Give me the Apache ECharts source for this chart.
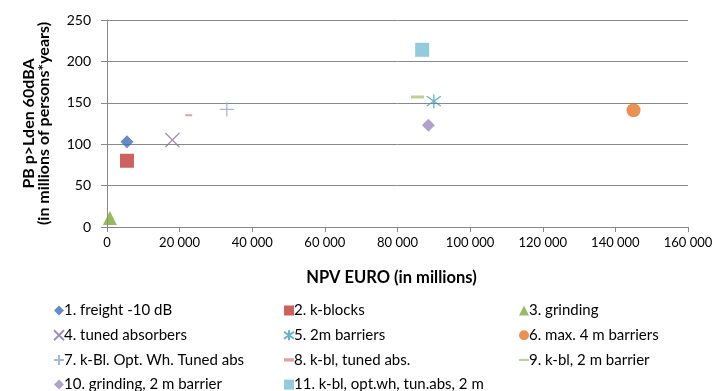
<!DOCTYPE html>
<html>
<head>
<meta charset="utf-8">
<script src="https://cdn.jsdelivr.net/npm/echarts@6/dist/echarts.min.js"></script>
<style>
html,body{margin:0;padding:0;background:#fff}
#main{width:717px;height:391px}
</style>
</head>
<body>
<div id="main"></div>
<script>
// 各方案的名称与数据
var names = ['1. freight -10 dB', '2. k-blocks', '3. grinding', '4. tuned absorbers', '5. 2m barriers',
  '6. max. 4 m barriers', '7. k-Bl. Opt. Wh. Tuned abs', '8. k-bl, tuned abs.', '9. k-bl, 2 m barrier',
  '10. grinding, 2 m barrier', '11. k-bl, opt.wh, tun.abs, 2 m'];
var npv = [5500, 5500, 800, 18000, 90000, 145000, 33000, 22500, 85500, 88500, 86800];
var pb = [103, 80, 11, 105, 152, 141, 142, 135, 157, 123, 214];
var colors = ['#3F6FB5', '#BE3B38', '#7EA83C', '#8B73A8', '#3E9DB8', '#E5772A', '#8EA6D6', '#D98B88', '#A8C77A', '#9F8BBE', '#79BDD5'];
var yTicks = [0, 50, 100, 150, 200, 250];
var xTicks = [0, 20000, 40000, 60000, 80000, 100000, 120000, 140000, 160000];

var font = 'Lato';
// 标记形状
var symbols = [
  {s: 'diamond', size: 13, line: false},
  {s: 'rect', size: 14, line: false},
  {s: 'triangle', size: 14, line: false},
  {s: 'path://M0,0L10,10M10,0L0,10', size: 14, line: true},
  {s: 'path://M5,0L5,10M0,1.5L10,8.5M10,1.5L0,8.5', size: 14, line: true},
  {s: 'circle', size: 14, line: false},
  {s: 'path://M5,0L5,10M0,5L10,5', size: 14, line: true},
  {s: 'rect', size: [7, 2], line: false, icon: 'path://M0,0h6v2h-6z'},
  {s: 'rect', size: [13, 3], line: false, icon: 'path://M0,0h10v2h-10z'},
  {s: 'diamond', size: 13, line: false},
  {s: 'rect', size: 14, line: false}
];

var series = names.map(function (n, i) {
  var sym = symbols[i];
  return {
    name: n,
    type: 'scatter',
    symbol: sym.s,
    symbolSize: sym.size,
    data: [[npv[i], pb[i]]],
    itemStyle: sym.line ? {color: colors[i], borderColor: colors[i], borderWidth: 1.3} : {color: colors[i]}
  };
});

function legendFor(idx, left) {
  return {
    orient: 'vertical',
    left: left,
    top: 303,
    height: 100,
    padding: 0,
    itemWidth: 10,
    itemHeight: 10,
    itemGap: 9.7,
    data: idx.map(function (i) {
      return symbols[i].icon ? {name: names[i], icon: symbols[i].icon} : names[i];
    }),
    textStyle: {fontFamily: font, fontSize: 15, color: '#000', padding: [0, 0, 0, -5], lineHeight: 15}
  };
}

var myChart = echarts.init(document.getElementById('main'));
var option = {
  animation: false,
  grid: {left: 107, right: 29, top: 20, bottom: 164},
  legend: [legendFor([0, 3, 6, 9], 53), legendFor([1, 4, 7, 10], 283), legendFor([2, 5, 8], 519)],
  xAxis: {
    type: 'value',
    min: xTicks[0],
    max: xTicks[xTicks.length - 1],
    interval: 20000,
    name: 'NPV EURO (in millions)',
    nameLocation: 'middle',
    nameGap: 42,
    nameTextStyle: {fontFamily: font, fontSize: 16.5, fontWeight: 'bold', color: '#000', padding: [0, 12, 0, 0]},
    axisLine: {show: true, lineStyle: {color: '#888'}},
    axisTick: {show: true, length: 5, lineStyle: {color: '#888'}},
    splitLine: {show: false},
    axisLabel: {
      fontFamily: font, fontSize: 13, color: '#000', margin: 9,
      formatter: function (v) { return String(v).replace(/\B(?=(\d{3})+(?!\d))/g, ' '); }
    }
  },
  yAxis: {
    type: 'value',
    min: yTicks[0],
    max: yTicks[yTicks.length - 1],
    interval: 50,
    name: 'PB p>Lden 60dBA\n(in millions of persons*years)',
    nameLocation: 'middle',
    nameGap: 56,
    nameTextStyle: {fontFamily: font, fontSize: 16, fontWeight: 'bold', color: '#000', lineHeight: 15},
    axisLine: {show: true, lineStyle: {color: '#888'}},
    axisTick: {show: true, length: 6, lineStyle: {color: '#888'}},
    splitLine: {show: true, lineStyle: {color: '#888'}},
    axisLabel: {fontFamily: font, fontSize: 14, color: '#000', margin: 16}
  },
  series: series
};
myChart.setOption(option);
</script>
</body>
</html>
